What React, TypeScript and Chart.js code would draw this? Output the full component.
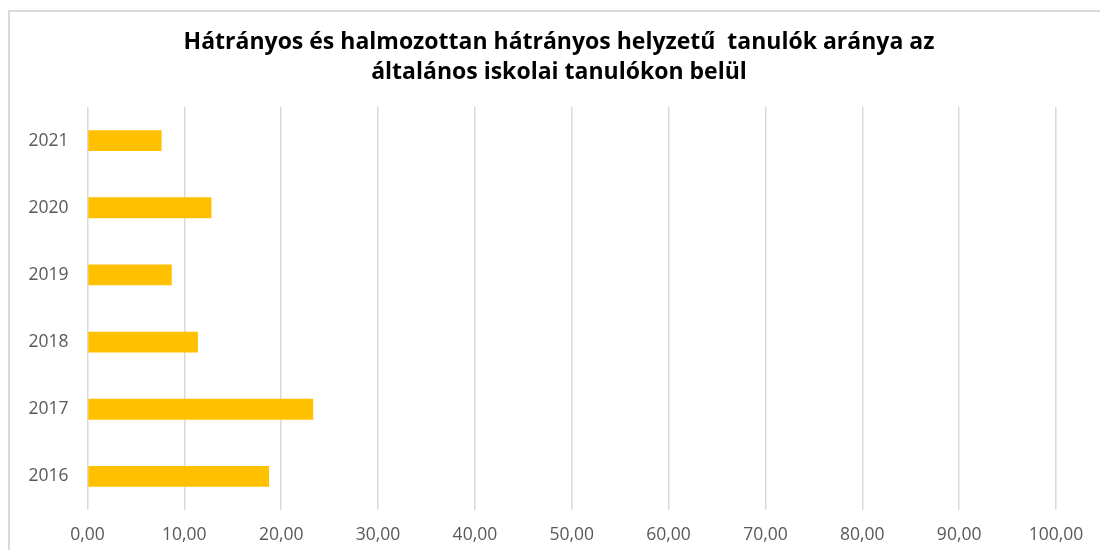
import React, { useEffect, useRef } from "react";
import { Chart, registerables } from "chart.js";

Chart.register(...registerables);

const categories = ["2021", "2020", "2019", "2018", "2017", "2016"];
const values = [7.65, 12.8, 8.7, 11.4, 23.3, 18.75];
const titleLines = [
  "Hátrányos és halmozottan hátrányos helyzetű  tanulók aránya az",
  "általános iskolai tanulókon belül",
];

const titlePlugin = {
  id: "customTitle",
  afterDraw(chart: any) {
    const ctx = chart.ctx;
    ctx.save();
    ctx.font = "bold 23px 'Open Sans'";
    ctx.fillStyle = "#000000";
    ctx.textAlign = "center";
    ctx.textBaseline = "middle";
    titleLines.forEach((line, i) => {
      ctx.fillText(line, 559, 42 + i * 30);
    });
    ctx.restore();
  },
};

export default function App() {
  const ref = useRef<HTMLCanvasElement>(null);
  useEffect(() => {
    if (!ref.current) return;
    const chart = new Chart(ref.current, {
      type: "bar",
      data: {
        labels: categories,
        datasets: [
          {
            data: values,
            backgroundColor: "#FFC000",
            barPercentage: 0.31,
            categoryPercentage: 1,
          },
        ],
      },
      plugins: [titlePlugin],
      options: {
        indexAxis: "y",
        animation: false,
        responsive: false,
        layout: { padding: { left: 0, right: 44, top: 107, bottom: 0 } },
        plugins: {
          legend: { display: false },
          tooltip: { enabled: false },
          title: { display: false },
        },
        scales: {
          x: {
            min: 0,
            max: 100,
            ticks: {
              stepSize: 10,
              color: "#595959",
              padding: 15,
              font: { family: "'Open Sans'", size: 17.5 },
              callback: (v: any) => Number(v).toFixed(2).replace(".", ","),
            },
            grid: { color: "#d9d9d9", lineWidth: 1.5, drawTicks: false },
            border: { display: false },
            afterFit: (s: any) => {
              s.height = 40;
            },
          },
          y: {
            ticks: {
              color: "#595959",
              padding: 19,
              font: { family: "'Open Sans'", size: 17.5 },
            },
            grid: { display: false, drawTicks: false },
            border: { display: false },
            afterFit: (s: any) => {
              s.width = 87.5;
            },
          },
        },
      },
    });
    return () => chart.destroy();
  }, []);
  return (
    <div style={{ position: "fixed", left: 0, top: 0, width: 1100, height: 550, overflow: "hidden", background: "#fff" }}>
      <div
        style={{
          position: "absolute",
          left: 8,
          top: 10,
          width: 1200,
          height: 700,
          border: "2px solid #d9d9d9",
        }}
      />
      <canvas ref={ref} width={1100} height={550} style={{ position: "absolute", left: 0, top: 0 }} />
    </div>
  );
}
